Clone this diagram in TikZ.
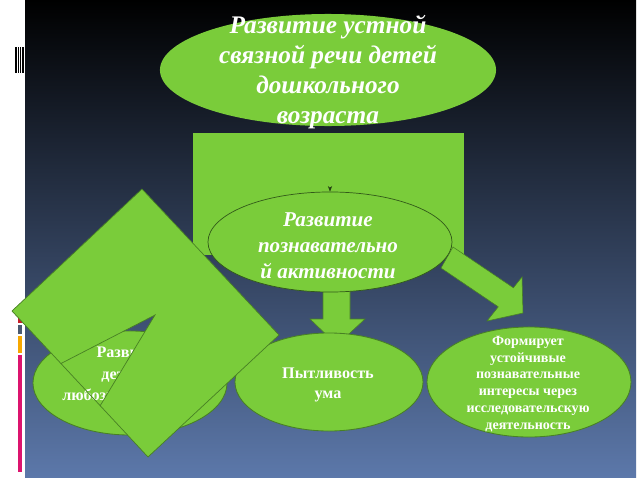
\documentclass[tikz,border=0pt]{standalone}
\usepackage{fontspec}
\setmainfont{Liberation Serif}
\usepackage{tikz}
\usetikzlibrary{arrows.meta}
\usetikzlibrary{positioning}
\usetikzlibrary{shapes.geometric}

\definecolor{leaf}{RGB}{122,204,58}
\definecolor{leafline}{RGB}{72,128,36}
\definecolor{slatebot}{RGB}{92,120,170}
\definecolor{tabgrey}{RGB}{74,90,112}
\definecolor{taborange}{RGB}{247,168,0}
\definecolor{tabpink}{RGB}{220,20,110}
\definecolor{tabred}{RGB}{200,30,40}

\begin{document}
\begin{tikzpicture}
  [
    x = 0.025cm, y = -0.025cm,
    bubble/.style = {ellipse, fill=leaf, draw=leafline, line width=0.6pt, inner sep=0pt},
    block/.style = {fill=leaf, draw=leafline, line width=0.4pt},
    title/.style = {text=white, align=center, inner sep=0pt,
                   font=\fontsize{18}{21.3}\selectfont\bfseries\itshape},
    subtitle/.style = {title, font=\fontsize{15}{18.5}\selectfont\bfseries\itshape},
    plain/.style = {text=white, align=center, inner sep=0pt,
                   font=\fontsize{11.5}{14}\selectfont\bfseries},
    small/.style = {plain, font=\fontsize{10}{12}\selectfont\bfseries},
  ]

  % slide background
  \useasboundingbox (0,0) rectangle (640,480);
  \fill[white] (0,0) rectangle (640,480);
  \shade[top color=black, bottom color=slatebot] (25,0) rectangle (636,477);

  % left margin marks
  \foreach \xa/\xb in {15/16.6, 17.6/18.9, 20/21.3, 22.4/23.8}
    \fill[black] (\xa,47) rectangle (\xb,73);
  \fill[tabred] (18,318) rectangle (22,323);
  \fill[tabgrey] (18,325) rectangle (22,334);
  \fill[taborange] (18,336) rectangle (22,353);
  \fill[tabpink] (18,355) rectangle (22,472);

  % trunk and arrows
  \fill[leaf] (193,133) rectangle (464,255);
  \path[block] (441,268) -- (453,247) -- (513.4,287.8) -- (522,277)
    -- (523,313) -- (487,321) -- (498.3,306.8) -- cycle;
  \path[block] (323,285) -- (350,285) -- (350,319) -- (365,319)
    -- (337,345) -- (310,319) -- (323,319) -- cycle;

  \node[bubble, draw=none, minimum width=8.4cm, minimum height=2.8cm] (goal) at (328,70) {};
  \node[title] (goal-txt) at (328,72)
    {Развитие устной\\связной речи детей\\дошкольного\\возраста};

  \node[bubble, line width=0.5pt, draw=leafline!70!black, minimum width=6.1cm, minimum height=2.5cm] (activity) at (330,242) {};
  \node[subtitle] (activity-txt) at (328,246)
    {Развитие\\познавательно\\й активности};
  \draw[leafline!50!black, thin, -{Stealth[length=4pt, width=3pt]}] (330,187) -- (activity.north);

  % bottom row
  \node[bubble, minimum width=4.85cm, minimum height=2.6cm] (curious) at (130,383) {};
  \node[plain, font=\fontsize{11.5}{15.3}\selectfont\bfseries] (curious-txt) at (130,374)
    {Развитие\\детской\\любознательности};

  \node[bubble, minimum width=4.7cm, minimum height=2.45cm] (mind) at (329,382) {};
  \node[plain] (mind-txt) at (328,385) {Пытливость\\ума};

  \node[bubble, minimum width=5.1cm, minimum height=2.75cm] (interest) at (529,382) {};
  \node[small] (interest-txt) at (528,384)
    {Формирует\\устойчивые\\познавательные\\интересы через\\исследовательскую\\деятельность};

  % tilted square with a triangular window
  \fill[leaf, even odd rule] (142,189) -- (279,335) -- (148,457) -- (12,311) -- cycle
    (155,315) -- (61,363.5) -- (100,406) -- cycle;
  \draw[leafline, line width=0.5pt] (142,189) -- (279,335) -- (148,457) -- (12,311) -- cycle;
  \draw[leafline, line width=0.5pt] (61,363.5) -- (155,315) -- (100,406);

\end{tikzpicture}
\end{document}
